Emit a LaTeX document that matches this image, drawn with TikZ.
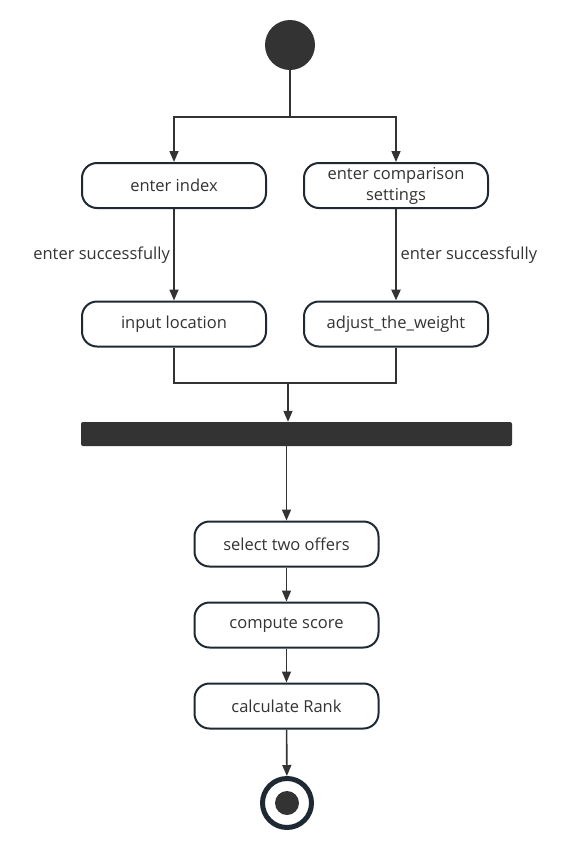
\documentclass[tikz,border=0pt]{standalone}
\usepackage{fontspec}
\setmainfont{Open Sans}
\usetikzlibrary{arrows.meta}
\definecolor{ink}{HTML}{333333}
\definecolor{edge}{HTML}{1F2933}
\tikzset{
  activity/.style={draw=edge, line width=2pt, fill=white, rounded corners=15pt,
    minimum width=184pt, minimum height=45pt, inner sep=2pt, text=ink,
    align=center, font=\fontsize{16.5}{21}\selectfont},
  startdot/.style={circle, fill=ink, minimum size=50pt, inner sep=0pt},
  enddot/.style={circle, draw=edge, line width=5pt, minimum size=49pt, inner sep=0pt,
    path picture={\fill[ink] (path picture bounding box.center) circle (12pt);}},
  syncbar/.style={fill=ink, rounded corners=2pt, minimum width=431pt,
    minimum height=24pt, inner sep=0pt},
  flow/.style={draw=ink, line width=1.6pt, -{Triangle[length=11pt,width=9pt]}},
  plain/.style={draw=ink, line width=1.6pt},
  guard/.style={text=ink, font=\fontsize{16.5}{21}\selectfont}
}
\begin{document}
\begin{tikzpicture}[x=1pt, y=-1pt]
\useasboundingbox (0,0) rectangle (587,857);
% states
\node[startdot] (start) at (290,45) {};
\node[activity] (index) at (174,185.5) {enter index};
\node[activity] (settings) at (396,185.5) {enter comparison\\settings};
\node[activity] (location) at (174,324) {input location};
\node[activity] (weight) at (396,324) {adjust\_the\_weight};
\node[syncbar] (sync) at (296.5,434) {};
\node[activity] (select) at (286.5,544) {select two offers};
\node[activity] (score) at (286.5,625) {compute score};
\node[activity] (rank) at (286.5,706) {calculate Rank};
\node[enddot] (stop) at (287,803) {};
% fork
\coordinate (fork) at (290,117);
\draw[plain] (start) -- (fork);
\draw[flow] (fork) -| (index.north);
\draw[flow] (fork) -| (settings.north);
\draw[flow] (index) -- node[guard, left] {enter successfully} (location);
\draw[flow, line width=2.5pt] (settings) -- node[guard, right] {enter successfully} (weight);
% join
\coordinate (join) at (288,383);
\draw[plain] (location.south) |- (join) -| (weight.south);
\draw[flow] (join) -- (join |- sync.north);
\draw[flow] (sync.south -| select) -- (select);
\draw[flow] (select) -- (score);
\draw[flow] (score) -- (rank);
\draw[flow] (rank) -- (stop);
\end{tikzpicture}
\end{document}
